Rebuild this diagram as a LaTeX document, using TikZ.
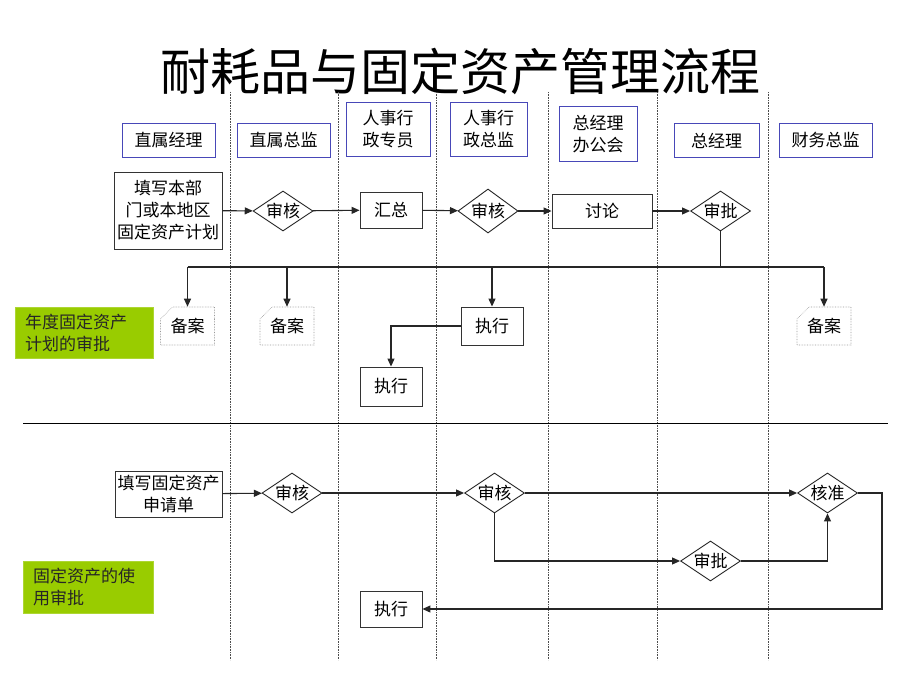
\documentclass[tikz,border=0pt]{standalone}
\usepackage{fontspec}
\newfontfamily\cjk{Noto Sans CJK SC}
\usetikzlibrary{shapes.geometric,shapes.misc,arrows.meta}
\definecolor{hdblue}{RGB}{72,72,184}
\definecolor{lgreen}{RGB}{153,204,0}
\begin{document}
\begin{tikzpicture}[x=1pt,y=-1pt,
  every node/.style={font=\cjk\fontsize{17}{22}\selectfont},
  lane/.style={draw=black!70, densely dotted, line width=0.6pt},
  hdbox/.style={draw=hdblue, line width=1pt, inner sep=0pt, align=center},
  box/.style={draw=black!80, line width=0.9pt, inner sep=0pt, align=center},
  dia/.style={diamond, draw=black!85, line width=0.9pt, shape aspect=1.5, inner sep=0pt,
    minimum width=60, minimum height=40, text height=14, text depth=1},
  card/.style={chamfered rectangle, chamfered rectangle corners=north west,
    chamfered rectangle sep=6pt, draw=black!40, densely dotted, line width=0.6pt,
    inner sep=0pt, minimum width=54, minimum height=38},
  glabel/.style={fill=lgreen, draw=lgreen!80!white, inner xsep=10pt, inner ysep=0pt,
    align=left, text width=118, minimum height=51, text=black!85},
  ln/.style={line width=1.1pt, draw=black!85},
  arr/.style={ln, -{Triangle[length=8pt,width=7pt]}}]
\useasboundingbox[fill=white] (0,0) rectangle (920,690);

% title
\node (title) at (460,72) {\fontsize{50}{60}\selectfont 耐耗品与固定资产管理流程};

% lanes
\foreach \x in {230,338,436,548,657,768}
  \draw[lane] (\x,92) -- (\x,660);

% headers
\node[hdbox, minimum width=93, minimum height=33] (h1) at (168.5,140.5) {直属经理};
\node[hdbox, minimum width=93, minimum height=33] (h2) at (283.5,140.5) {直属总监};
\node[hdbox, minimum width=84, minimum height=53] (h3) at (388,129.5) {人事行\\政专员};
\node[hdbox, minimum width=77, minimum height=53] (h4) at (488.5,129.5) {人事行\\政总监};
\node[hdbox, minimum width=78, minimum height=54] (h5) at (598,134) {总经理\\办公会};
\node[hdbox, minimum width=85, minimum height=33] (h6) at (716.5,140.5) {总经理};
\node[hdbox, minimum width=93, minimum height=33] (h7) at (825.5,140.5) {财务总监};

% row 1
\node[box, minimum width=108, minimum height=77] (p1) at (168,210.5) {填写本部\\门或本地区\\固定资产计划};
\node[dia] (a1) at (283,211) {审核};
\node[box, minimum width=62, minimum height=36] (hz) at (391,210) {汇总};
\node[dia, minimum height=44] (a2) at (488,211) {审核};
\node[box, minimum width=100, minimum height=34] (tl) at (602,211) {讨论};
\node[dia] (sp) at (720.5,211) {审批};

\draw[arr] (p1) -- (a1);
\draw[arr] (a1) -- (hz);
\draw[arr] (hz) -- (a2);
\draw[arr] (a2) -- (tl);
\draw[arr] (tl) -- (sp);

\node[card] (ba1) at (187.5,326) {备案};
\node[card] (ba2) at (287,326) {备案};
\node[box, minimum width=62, minimum height=38] (zx1) at (492,326) {执行};
\node[card] (ba3) at (824,326) {备案};
\node[box, minimum width=62, minimum height=39] (zx2) at (391,386.5) {执行};

\coordinate (bus) at (0,267);
\draw[ln, line width=1.4pt] (sp.south) -- (sp.south |- bus);
\draw[ln, line width=1.4pt] (ba1.north |- bus) -- (ba3.north |- bus);
\draw[arr] (ba1.north |- bus) -- (ba1.north);
\draw[arr] (ba2.north |- bus) -- (ba2.north);
\draw[arr] (zx1.north |- bus) -- (zx1.north);
\draw[arr] (ba3.north |- bus) -- (ba3.north);
\draw[arr] (zx1.west) -| (zx2.north);

\node[glabel] (g1) at (84,332.5) {年度固定资产\\计划的审批};

% separator
\draw[line width=0.9pt] (23,423) -- (888,423);

% row 2
\node[box, minimum width=107, minimum height=46] (p2) at (168.5,494) {填写固定资产\\申请单};
\node[dia] (b1) at (292,493) {审核};
\node[dia] (b2) at (494.5,493) {审核};
\node[dia] (hz2) at (827.5,493) {核准};
\node[dia] (sp2) at (710.5,561) {审批};
\node[box, minimum width=62, minimum height=36] (zx3) at (391,609) {执行};
\coordinate (cR) at (882,609);

\draw[arr] (p2) -- (b1);
\draw[arr] (b1) -- (b2);
\draw[arr] (b2) -- (hz2);
\draw[arr] (b2.south) |- (sp2.west);
\draw[arr] (sp2.east) -| (hz2.south);
\draw[arr] (hz2.east) -| (cR) -- (zx3.east);

\node[glabel, text width=110, minimum height=52] (g2) at (88,587) {固定资产的使\\用审批};
\end{tikzpicture}
\end{document}
